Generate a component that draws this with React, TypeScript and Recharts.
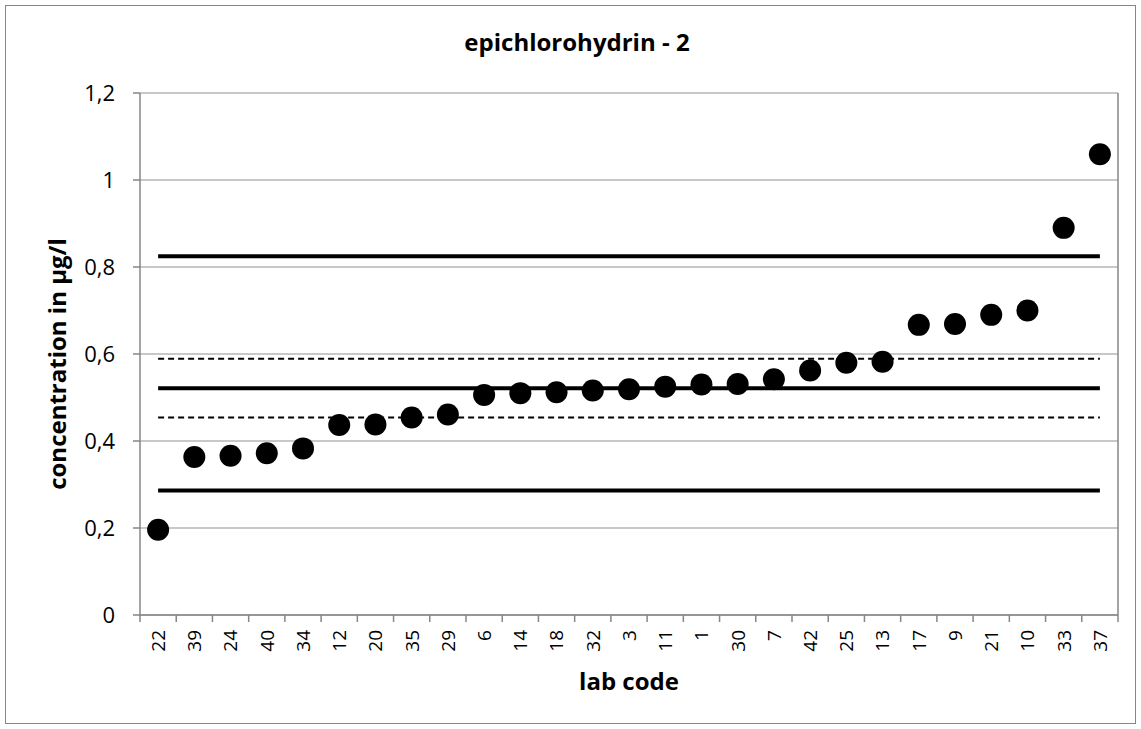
import React from "react";
import {
  ComposedChart,
  Scatter,
  Line,
  XAxis,
  YAxis,
  CartesianGrid,
} from "recharts";

const labCodes = [
  "22", "39", "24", "40", "34", "12", "20", "35", "29", "6", "14", "18", "32", "3",
  "11", "1", "30", "7", "42", "25", "13", "17", "9", "21", "10", "33", "37",
];

const concentrations = [
  0.196, 0.363, 0.366, 0.372, 0.383, 0.437, 0.438, 0.454, 0.461, 0.506, 0.51, 0.512,
  0.516, 0.519, 0.525, 0.53, 0.531, 0.542, 0.562, 0.58, 0.582, 0.667, 0.669, 0.69,
  0.7, 0.89, 1.059,
];

const assignedValue = 0.521;
const lowerLimit = 0.286;
const upperLimit = 0.825;
const lowerUncertainty = 0.454;
const upperUncertainty = 0.589;

const yTicks = [0, 0.2, 0.4, 0.6, 0.8, 1, 1.2];

const data = labCodes.map((lab, i) => ({
  lab,
  value: concentrations[i],
  assigned: assignedValue,
  lower: lowerLimit,
  upper: upperLimit,
  lowerU: lowerUncertainty,
  upperU: upperUncertainty,
}));

const FONT = "'Open Sans', 'Liberation Sans', sans-serif";
const GRAY = "#868686";

// label rotated, plus Excel-style tick marks on the category boundaries
const LabTick = (props: any) => {
  const { x, y, payload, index } = props;
  const half = payload.offset || 0;
  const last = index === labCodes.length - 1;
  return (
    <g>
      <line x1={x - half} x2={x - half} y1={y} y2={y + 7} stroke={GRAY} strokeWidth={1.5} />
      {last && (
        <line x1={x + half} x2={x + half} y1={y} y2={y + 7} stroke={GRAY} strokeWidth={1.5} />
      )}
      <g transform={`translate(${x},${y + 15})`}>
        <text
          transform="rotate(-90)"
          textAnchor="end"
          dy="0.36em"
          fontFamily={FONT}
          fontSize={19}
          fill="#000"
        >
          {payload.value}
        </text>
      </g>
    </g>
  );
};

export default function App() {
  return (
    <div
      style={{
        position: "absolute",
        left: 0,
        top: 0,
        width: 1141,
        height: 729,
        background: "#fff",
        fontFamily: FONT,
      }}
    >
      <div
        style={{
          position: "absolute",
          left: 5,
          top: 5,
          width: 1129,
          height: 717,
          border: `1px solid ${GRAY}`,
        }}
      />
      <div
        style={{
          position: "absolute",
          left: 12,
          width: 1130,
          top: 25,
          textAlign: "center",
          fontWeight: 700,
          fontSize: 24,
        }}
      >
        epichlorohydrin - 2
      </div>
      <div
        style={{
          position: "absolute",
          left: 56,
          top: 364,
          transform: "translate(-50%, -50%) rotate(-90deg)",
          whiteSpace: "nowrap",
          fontWeight: 700,
          fontSize: 24,
        }}
      >
        concentration in µg/l
      </div>
      <div
        style={{
          position: "absolute",
          left: 629,
          top: 680,
          transform: "translate(-50%, -50%)",
          whiteSpace: "nowrap",
          fontWeight: 700,
          fontSize: 24,
        }}
      >
        lab code
      </div>
      <div style={{ position: "absolute", left: 0, top: 0 }}>
        <ComposedChart
          width={1141}
          height={729}
          data={data}
          margin={{ top: 93, right: 22, bottom: 54, left: 80 }}
        >
          <CartesianGrid horizontal vertical={false} stroke={GRAY} strokeOpacity={0.9} />
          <XAxis
            dataKey="lab"
            type="category"
            scale="band"
            interval={0}
            height={60}
            tickSize={0}
            tickMargin={0}
            tickLine={false}
            stroke={GRAY}
            strokeWidth={1.5}
            tick={<LabTick />}
          />
          <YAxis
            domain={[0, 1.2]}
            ticks={yTicks}
            width={60}
            tickSize={7}
            tickMargin={18}
            stroke={GRAY}
            strokeWidth={1.5}
            tick={{ fill: "#000", fontSize: 22, fontFamily: FONT }}
            tickFormatter={(v: number) => String(v).replace(".", ",")}
          />
          <YAxis
            yAxisId="right"
            orientation="right"
            width={1}
            tick={false}
            tickLine={false}
            stroke={GRAY}
            strokeWidth={1.5}
          />
          <Line dataKey="upper" stroke="#000" strokeWidth={4} dot={false} isAnimationActive={false} />
          <Line dataKey="lower" stroke="#000" strokeWidth={4} dot={false} isAnimationActive={false} />
          <Line dataKey="assigned" stroke="#000" strokeWidth={4} dot={false} isAnimationActive={false} />
          <Line
            dataKey="upperU"
            stroke="#000"
            strokeWidth={2}
            strokeDasharray="6 4"
            dot={false}
            isAnimationActive={false}
          />
          <Line
            dataKey="lowerU"
            stroke="#000"
            strokeWidth={2}
            strokeDasharray="6 4"
            dot={false}
            isAnimationActive={false}
          />
          <Scatter
            dataKey="value"
            fill="#000"
            isAnimationActive={false}
            shape={(p: any) => <circle cx={p.cx} cy={p.cy} r={11} fill="#000" />}
          />
        </ComposedChart>
      </div>
    </div>
  );
}
